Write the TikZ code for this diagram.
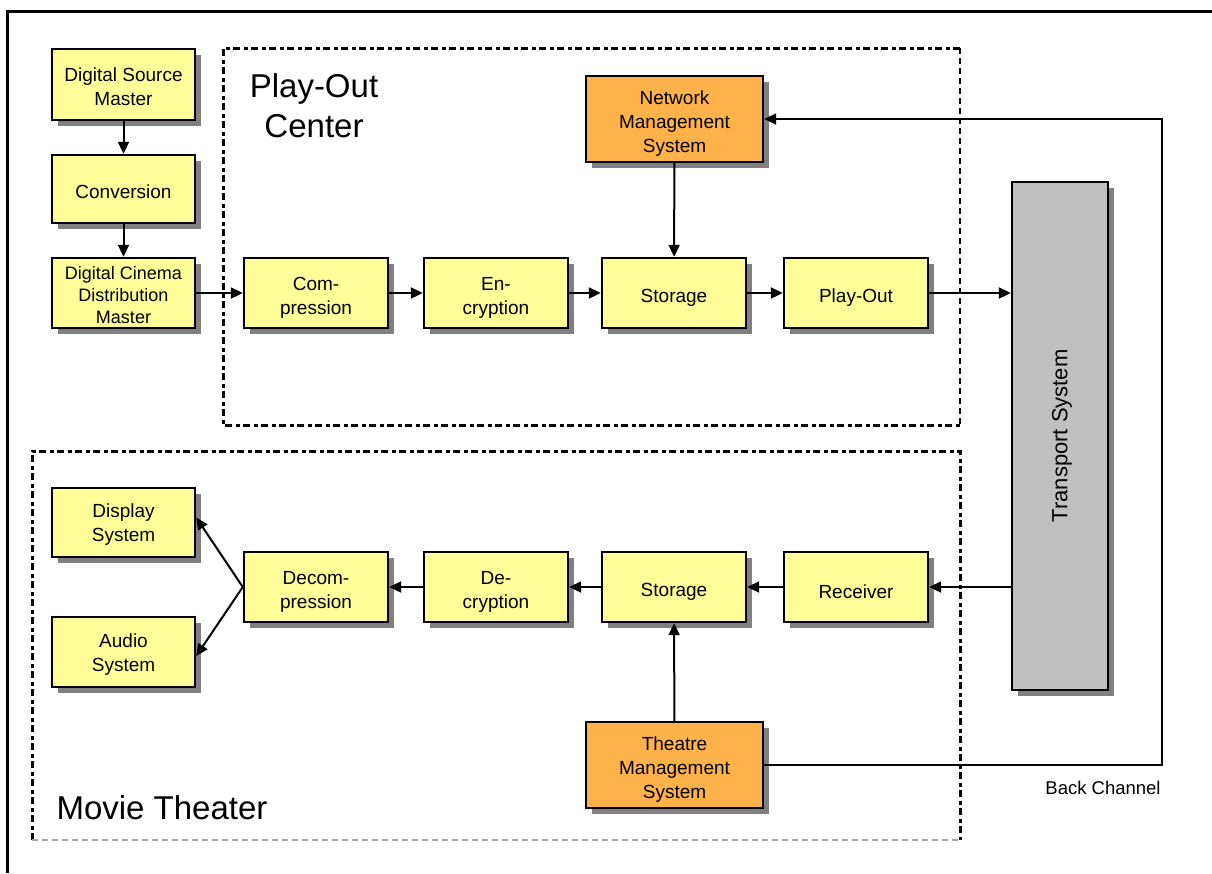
\documentclass[tikz,border=0pt]{standalone}
\usepackage{fontspec}
\setmainfont{Liberation Sans}
\usetikzlibrary{shadows,arrows.meta}
\definecolor{boxyellow}{HTML}{FFFF99}
\definecolor{boxorange}{HTML}{FFB24A}
\definecolor{transgray}{HTML}{C0C0C0}
\definecolor{shadowgray}{HTML}{808080}
\tikzset{
  stage/.style={rectangle, draw=black, line width=2.4pt, fill=boxyellow,
    minimum width=143pt, minimum height=70pt, inner sep=0pt,
    drop shadow={shadow xshift=6pt, shadow yshift=-6pt, fill=shadowgray, opacity=1}},
  manager/.style={stage, fill=boxorange, minimum width=177pt, minimum height=86pt},
  boxtext/.style={align=center, inner sep=0pt, yshift=-5pt,
    font=\fontsize{19}{24}\selectfont},
  sidetext/.style={boxtext, yshift=2.5pt},
  flow/.style={line width=2pt, -{Triangle[length=12pt,width=11pt]}},
  regionthick/.style={line width=3pt, dash pattern=on 7pt off 3.5pt on 4pt off 3.5pt},
  regionthin/.style={line width=1.6pt, dash pattern=on 6pt off 4pt},
  title/.style={font=\fontsize{33}{40}\selectfont, align=center, inner sep=0pt},
}
\begin{document}
\begin{tikzpicture}[x=1pt, y=-1pt]
\useasboundingbox (0,0) rectangle (1212,873);

% outer frame
\draw[line width=3pt] (7,873) -- (7,11) -- (1212,11);

% play-out center region
\draw[regionthick] (960,48) -- (223,48) -- (223,425) -- (960,425);
\draw[regionthin] (960,48) -- (960,425);
\node[title] (poc) at (314,106) {Play-Out\\Center};

% movie theater region
\draw[regionthick] (32,840) -- (32,451) -- (960,451) -- (960,840);
\draw[line width=1.4pt, draw=gray!70, dash pattern=on 6pt off 4pt] (32,840) -- (960,840);
\node[title] (mt) at (162,808) {Movie Theater};

% mastering chain
\node[stage, minimum height=71pt, label={[sidetext]center:Digital Source\\Master}] (dsm) at (123.5,84.5) {};
\node[stage, minimum height=68pt, label={[sidetext]center:Conversion}] (conv) at (123.5,189) {};
\node[stage, label={[sidetext, font=\fontsize{18}{22}\selectfont]center:Digital Cinema\\Distribution\\Master}] (dcdm) at (123.5,293) {};

% play-out chain
\node[stage, minimum width=144pt, label={[boxtext]center:Com-\\pression}] (comp) at (316,293) {};
\node[stage, minimum width=144pt, label={[boxtext]center:En-\\cryption}] (enc) at (496,293) {};
\node[stage, minimum width=144pt, label={[boxtext]center:Storage}] (sto1) at (674,293) {};
\node[stage, minimum width=144pt, label={[boxtext]center:Play-Out}] (play) at (856,293) {};
\node[manager, label={[boxtext]center:Network\\Management\\System}] (nms) at (674.5,119) {};

% transport
\node[rectangle, draw=black, line width=2.4pt, fill=transgray,
  minimum width=96pt, minimum height=508pt, inner sep=0pt,
  drop shadow={shadow xshift=6pt, shadow yshift=-6pt, fill=shadowgray, opacity=1}] (trans) at (1060,436) {};
\node[rotate=90, font=\fontsize{22}{26}\selectfont] (translabel) at ([xshift=2pt]trans.center) {Transport System};

% theater chain
\node[stage, minimum height=69pt, label={[sidetext]center:Display\\System}] (disp) at (123.5,522.5) {};
\node[stage, label={[sidetext]center:Audio\\System}] (audio) at (123.5,652) {};
\node[stage, minimum width=144pt, label={[boxtext]center:Decom-\\pression}] (dec) at (316,587) {};
\node[stage, minimum width=144pt, label={[boxtext]center:De-\\cryption}] (decr) at (496,587) {};
\node[stage, minimum width=144pt, label={[boxtext]center:Storage}] (sto2) at (674,587) {};
\node[stage, minimum width=144pt, label={[boxtext]center:Receiver}] (recv) at (856,587) {};
\node[manager, label={[boxtext]center:Theatre\\Management\\System}] (tms) at (674.5,765) {};

% connectors
\draw[flow] (dsm) -- (conv);
\draw[flow] (conv) -- (dcdm);
\draw[flow] (dcdm) -- (comp);
\draw[flow] (comp) -- (enc);
\draw[flow] (enc) -- (sto1);
\draw[flow] (sto1) -- (play);
\draw[flow] (nms) -- (sto1);
\draw[flow] (play.east) -- (play.east -| trans.west);
\draw[flow] (trans.west |- recv.east) -- (recv.east);
\draw[flow] (recv) -- (sto2);
\draw[flow] (sto2) -- (decr);
\draw[flow] (decr) -- (dec);
\draw[flow] (dec.west) -- ([yshift=5pt]disp.east);
\draw[flow] (dec.west) -- ([yshift=-4pt]audio.east);
\draw[flow] (tms) -- (sto2);

% back channel
\coordinate (bcx) at (1162,0);
\draw[flow] (tms.east) -- (tms.east -| bcx) -- (bcx |- nms.east) -- (nms.east);
\node[font=\fontsize{18.5}{22}\selectfont, inner sep=0pt] (bclabel) at (1103,788) {Back Channel};
\end{tikzpicture}
\end{document}
